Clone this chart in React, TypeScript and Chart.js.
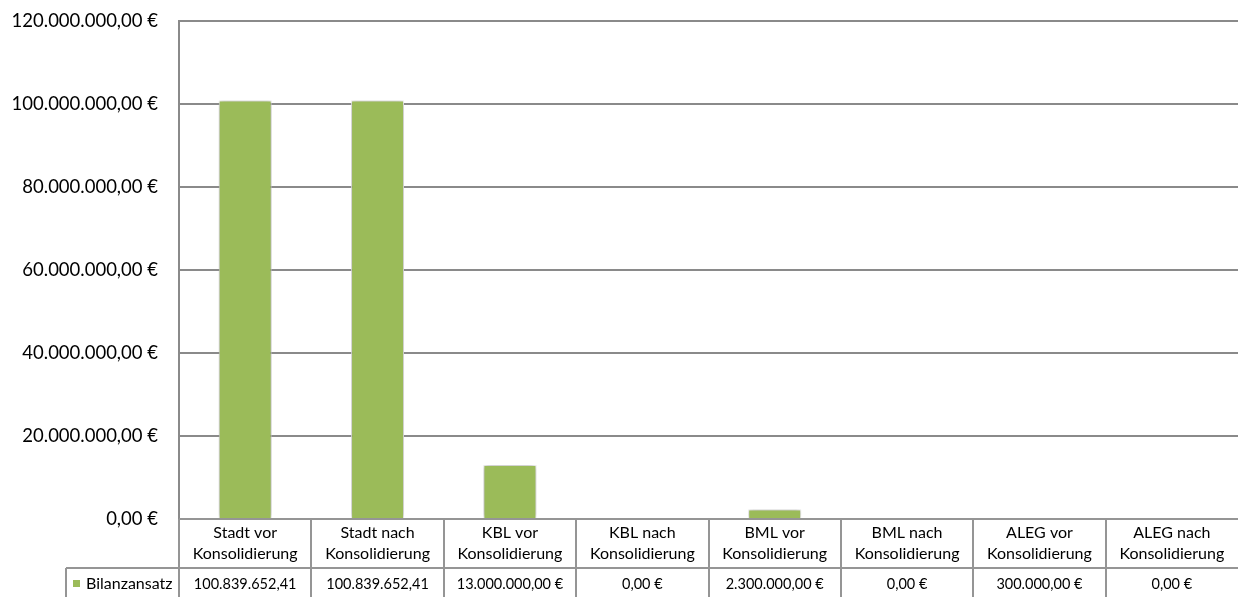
import React, { useEffect, useRef } from "react";
import { Chart, registerables } from "chart.js";

Chart.register(...registerables);

const categories: string[][] = [
  ["Stadt vor", "Konsolidierung"],
  ["Stadt nach", "Konsolidierung"],
  ["KBL vor", "Konsolidierung"],
  ["KBL nach", "Konsolidierung"],
  ["BML vor", "Konsolidierung"],
  ["BML nach", "Konsolidierung"],
  ["ALEG vor", "Konsolidierung"],
  ["ALEG nach", "Konsolidierung"],
];
const seriesName = "Bilanzansatz";
const values: number[] = [100839652.41, 100839652.41, 13000000, 0, 2300000, 0, 300000, 0];
const tableLabels: string[] = [
  "100.839.652,41",
  "100.839.652,41",
  "13.000.000,00 €",
  "0,00 €",
  "2.300.000,00 €",
  "0,00 €",
  "300.000,00 €",
  "0,00 €",
];
const yMin = 0;
const yMax = 120000000;
const yStep = 20000000;

const GREEN = "#9BBB59";
const GRID = "#8a8a8a";
const TABLE_LINE = "#959595";
const FONT = "Lato, 'Open Sans', sans-serif";

function formatEuro(v: number): string {
  const neg = v < 0;
  const abs = Math.abs(v);
  const fixed = abs.toFixed(2);
  const [intPart, dec] = fixed.split(".");
  const withDots = intPart.replace(/\B(?=(\d{3})+(?!\d))/g, ".");
  return (neg ? "-" : "") + withDots + "," + dec + " €";
}

const shadowPlugin = {
  id: "barShadow",
  beforeDatasetsDraw(chart: any) {
    const ctx = chart.ctx;
    ctx.save();
    ctx.shadowColor = "rgba(0,0,0,0.4)";
    ctx.shadowBlur = 6;
    ctx.shadowOffsetX = 0;
    ctx.shadowOffsetY = 0;
  },
  afterDatasetsDraw(chart: any) {
    chart.ctx.restore();
  },
};

const tablePlugin = {
  id: "dataTable",
  afterDraw(chart: any) {
    const ctx = chart.ctx;
    const xs = chart.scales.x;
    const area = chart.chartArea;
    const n = categories.length;
    const top = area.bottom;
    const mid = top + 49;
    const bottom = chart.height + 2;
    const legendLeft = 66;
    const step = xs.getPixelForValue(1) - xs.getPixelForValue(0);
    ctx.save();
    ctx.strokeStyle = TABLE_LINE;
    ctx.lineWidth = 2;
    ctx.beginPath();
    ctx.moveTo(area.left, top);
    ctx.lineTo(area.right, top);
    ctx.moveTo(legendLeft, mid);
    ctx.lineTo(area.right, mid);
    ctx.moveTo(legendLeft, mid);
    ctx.lineTo(legendLeft, bottom);
    for (let i = 0; i < n; i++) {
      const xr = Math.round(xs.getPixelForValue(i) - step / 2);
      ctx.moveTo(xr, top);
      ctx.lineTo(xr, bottom);
    }
    ctx.stroke();

    ctx.fillStyle = "#000";
    ctx.textAlign = "center";
    ctx.textBaseline = "middle";
    ctx.font = `16px ${FONT}`;
    for (let i = 0; i < n; i++) {
      const cx = xs.getPixelForValue(i);
      const lines = categories[i];
      ctx.fillText(lines[0], cx, top + 14);
      ctx.fillText(lines[1], cx, top + 35);
    }
    ctx.font = `14.5px ${FONT}`;
    for (let i = 0; i < n; i++) {
      const cx = xs.getPixelForValue(i);
      ctx.fillText(tableLabels[i], cx, mid + 16);
    }
    ctx.fillStyle = GREEN;
    ctx.fillRect(73, mid + 12, 7, 7);
    ctx.fillStyle = "#000";
    ctx.textAlign = "left";
    ctx.font = `16px ${FONT}`;
    ctx.fillText(seriesName, 86, mid + 16);
    ctx.restore();
  },
};

export default function App() {
  const canvasRef = useRef<HTMLCanvasElement | null>(null);

  useEffect(() => {
    document.body.style.margin = "0";
    const canvas = canvasRef.current;
    if (!canvas) return;
    const chart = new Chart(canvas, {
      type: "bar",
      data: {
        labels: categories.map((c) => c.join(" ")),
        datasets: [
          {
            label: seriesName,
            data: values,
            backgroundColor: GREEN,
            borderColor: "#ffffff",
            borderWidth: 1,
            barPercentage: 0.4,
            categoryPercentage: 1,
          },
        ],
      },
      options: {
        animation: false,
        responsive: true,
        maintainAspectRatio: false,
        layout: { padding: { top: 21, right: 0, bottom: 78, left: 0 } },
        plugins: {
          legend: { display: false },
          tooltip: { enabled: false },
        },
        scales: {
          x: {
            display: false,
            offset: true,
            grid: { display: false },
          },
          y: {
            min: yMin,
            max: yMax,
            afterFit(axis: any) {
              axis.width = 179;
              axis.paddingTop = 0;
              axis.paddingBottom = 0;
            },
            border: { display: true, color: GRID, width: 2 },
            grid: { color: GRID, lineWidth: 2, drawTicks: false },
            ticks: {
              stepSize: yStep,
              padding: 21,
              color: "#000",
              font: { family: FONT, size: 18.5 },
              callback: (v: any) => formatEuro(Number(v)),
            },
          },
        },
      },
      plugins: [shadowPlugin, tablePlugin],
    });
    return () => chart.destroy();
  }, []);

  return (
    <div style={{ width: 1238, height: 597, position: "relative" }}>
      <canvas ref={canvasRef} />
    </div>
  );
}
